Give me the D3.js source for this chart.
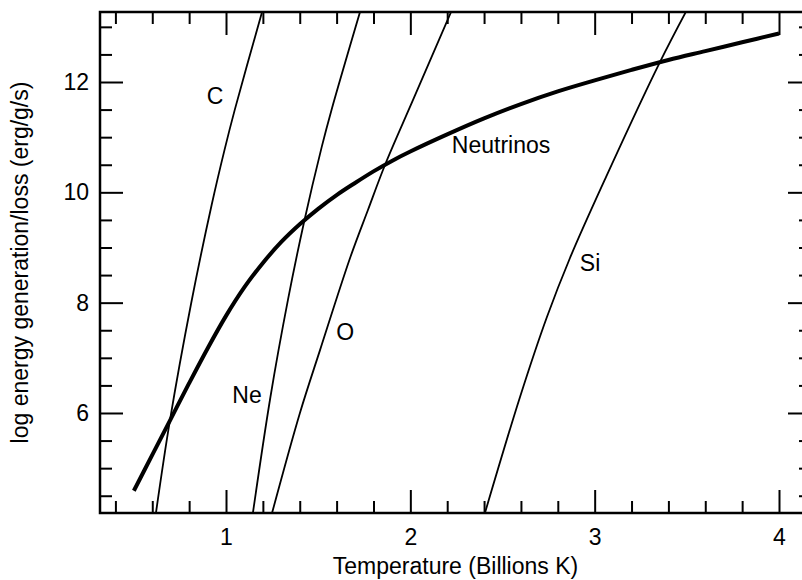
<!DOCTYPE html>
<html>
<head>
<meta charset="utf-8">
<script src="https://cdn.jsdelivr.net/npm/d3@7"></script>
<style>
  html, body { margin: 0; padding: 0; background: #fff; }
  svg { display: block; }
  text { font-family: "Liberation Sans", Arial, Helvetica, sans-serif; fill: #000; }
</style>
</head>
<body>
<script>
// Temperature in billions of K, log10 energy rate in erg/g/s
const neutrinoT = [0.5, 0.6, 0.7, 0.8, 0.9, 1.0, 1.1, 1.2, 1.3, 1.4, 1.5, 1.6, 1.7, 1.8, 1.9, 2.0, 2.2, 2.4, 2.6, 2.8, 3.0, 3.2, 3.4, 3.6, 3.8, 4.0];
const neutrinoLog = [4.59, 5.24, 5.89, 6.54, 7.17, 7.76, 8.28, 8.72, 9.10, 9.42, 9.70, 9.95, 10.17, 10.38, 10.57, 10.74, 11.05, 11.34, 11.60, 11.83, 12.03, 12.22, 12.40, 12.56, 12.72, 12.88];

const carbonT = [0.620, 0.696, 0.811, 0.922, 0.992, 1.047, 1.194];
const carbonLog = [4.19, 5.87, 7.99, 9.77, 10.77, 11.49, 13.25];

const neonT = [1.146, 1.241, 1.336, 1.422, 1.519, 1.572, 1.727];
const neonLog = [4.19, 6.29, 8.05, 9.44, 10.82, 11.49, 13.27];

const oxygenT = [1.250, 1.401, 1.510, 1.673, 1.770, 1.863, 2.014, 2.221];
const oxygenLog = [4.19, 6.00, 7.14, 8.81, 9.68, 10.50, 11.67, 13.27];

const siliconT = [2.405, 2.595, 2.741, 2.866, 3.062, 3.354, 3.501];
const siliconLog = [4.19, 6.29, 7.74, 8.81, 10.28, 12.36, 13.31];

// curve names and where each name sits (T, log rate)
const curveNames = ["C", "Ne", "O", "Neutrinos", "Si"];
const nameT = [0.940, 1.114, 1.646, 2.492, 2.975];
const nameLog = [11.75, 6.33, 7.47, 10.86, 8.72];

const xTickLabels = [1, 2, 3, 4];
const yTickLabels = [6, 8, 10, 12];
const xTitle = "Temperature (Billions K)";
const yTitle = "log energy generation/loss (erg/g/s)";

const W = 802, H = 580;
const plot = { left: 100, right: 811, top: 12, bottom: 513 };
const FONT = 23;

const x = d3.scaleLinear().domain([0.3164, 4.1736]).range([plot.left, plot.right]);
const y = d3.scaleLinear().domain([4.187, 13.269]).range([plot.bottom, plot.top]);

const svg = d3.select("body").append("svg").attr("width", W).attr("height", H);

svg.append("defs").append("clipPath").attr("id", "plotClip")
  .append("rect")
  .attr("x", plot.left).attr("y", plot.top)
  .attr("width", plot.right - plot.left).attr("height", plot.bottom - plot.top);

const MAJOR = 23, MINOR = 12;
const xMinor = d3.range(0.4, 4.1, 0.2).filter(v => Math.abs(v - Math.round(v)) > 1e-6);
const yMinor = d3.range(4.5, 13.1, 0.5).filter(v => !(Math.abs(v - Math.round(v)) < 1e-6 && Math.round(v) % 2 === 0));

function styleAxis(g) {
  g.select(".domain").remove();
  g.selectAll(".tick line").attr("stroke", "#000").attr("stroke-width", 2);
  g.selectAll(".tick text").attr("font-size", FONT).attr("font-family", "Liberation Sans, Arial, sans-serif").attr("fill", "#000");
}

// bottom
svg.append("g").attr("transform", `translate(0,${plot.bottom})`)
  .call(d3.axisBottom(x).tickValues(xTickLabels).tickSize(-MAJOR).tickPadding(16).tickFormat(d3.format("d")))
  .call(styleAxis);
svg.append("g").attr("transform", `translate(0,${plot.bottom})`)
  .call(d3.axisBottom(x).tickValues(xMinor).tickSize(-MINOR).tickFormat(""))
  .call(styleAxis);
// top
svg.append("g").attr("transform", `translate(0,${plot.top})`)
  .call(d3.axisTop(x).tickValues(xTickLabels).tickSize(-MAJOR).tickFormat(""))
  .call(styleAxis);
svg.append("g").attr("transform", `translate(0,${plot.top})`)
  .call(d3.axisTop(x).tickValues(xMinor).tickSize(-MINOR).tickFormat(""))
  .call(styleAxis);
// left
svg.append("g").attr("transform", `translate(${plot.left},0)`)
  .call(d3.axisLeft(y).tickValues(yTickLabels).tickSize(-MAJOR).tickPadding(11).tickFormat(d3.format("d")))
  .call(styleAxis);
svg.append("g").attr("transform", `translate(${plot.left},0)`)
  .call(d3.axisLeft(y).tickValues(yMinor).tickSize(-MINOR).tickFormat(""))
  .call(styleAxis);
// right
svg.append("g").attr("transform", `translate(${plot.right},0)`)
  .call(d3.axisRight(y).tickValues(yTickLabels).tickSize(-MAJOR).tickFormat(""))
  .call(styleAxis);
svg.append("g").attr("transform", `translate(${plot.right},0)`)
  .call(d3.axisRight(y).tickValues(yMinor).tickSize(-MINOR).tickFormat(""))
  .call(styleAxis);

// frame
svg.append("rect")
  .attr("x", plot.left).attr("y", plot.top)
  .attr("width", plot.right - plot.left).attr("height", plot.bottom - plot.top)
  .attr("fill", "none").attr("stroke", "#000").attr("stroke-width", 2.5);

const line = d3.line().x(d => x(d[0])).y(d => y(d[1])).curve(d3.curveCatmullRom.alpha(0.5));
const zip = (a, b) => a.map((v, i) => [v, b[i]]);

const curves = svg.append("g").attr("clip-path", "url(#plotClip)");
[[carbonT, carbonLog], [neonT, neonLog], [oxygenT, oxygenLog], [siliconT, siliconLog]].forEach(([t, v]) => {
  curves.append("path").attr("d", line(zip(t, v)))
    .attr("fill", "none").attr("stroke", "#000").attr("stroke-width", 1.8);
});
curves.append("path").attr("d", line(zip(neutrinoT, neutrinoLog)))
  .attr("fill", "none").attr("stroke", "#000").attr("stroke-width", 4);

// curve names
svg.append("g").selectAll("text").data(curveNames).join("text")
  .attr("x", (d, i) => x(nameT[i]))
  .attr("y", (d, i) => y(nameLog[i]))
  .attr("text-anchor", "middle")
  .attr("dominant-baseline", "central")
  .attr("font-size", FONT)
  .text(d => d);

// axis titles
svg.append("text")
  .attr("x", (plot.left + plot.right) / 2).attr("y", 574)
  .attr("text-anchor", "middle").attr("font-size", FONT)
  .text(xTitle);
svg.append("text")
  .attr("transform", `translate(28,${(plot.top + plot.bottom) / 2}) rotate(-90)`)
  .attr("text-anchor", "middle").attr("font-size", FONT)
  .text(yTitle);
</script>
</body>
</html>
